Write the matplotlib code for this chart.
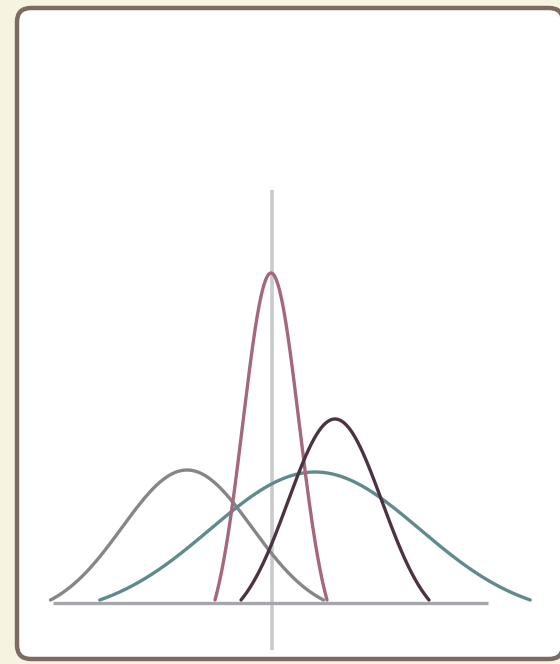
import numpy as np
import matplotlib
matplotlib.use("Agg")
import matplotlib.pyplot as plt
from matplotlib.patches import FancyBboxPatch

# ---- data: four bell curves (centre, spread, peak height) ----
names = ["gray", "teal", "pink", "purple"]
means = [-1.70, 0.86, -0.02, 1.26]
sigmas = [1.30, 2.10, 0.56, 0.94]
heights = [1.30, 1.28, 3.27, 1.81]
colors = ["#868686", "#5f8b8c", "#a5677a", "#4d3242"]
truncation = [2.1, 2.05, 2.0, 2.0]  # drawn to +/- k sigma, dropped to baseline

W, H = 560, 664
fig = plt.figure(figsize=(W / 100, H / 100), dpi=100)
fig.patch.set_facecolor("#f7f3e1")

# background / frame axes in pixel units
bg = fig.add_axes([0, 0, 1, 1])
bg.set_xlim(0, W)
bg.set_ylim(H, 0)
bg.axis("off")
frame = FancyBboxPatch((17, 8), 546, 651,
                       boxstyle="round,pad=0,rounding_size=14",
                       facecolor="white", edgecolor="#7d6a60",
                       linewidth=3.2, zorder=1)
bg.add_patch(frame)

# chart axes
ax = fig.add_axes([0, 0, 1, 1])
ax.patch.set_alpha(0)
ax.set_xlim(-5.44, 5.76)
ax.set_ylim(-0.64, 6.00)
ax.axis("off")

# vertical reference line
ax.plot([0, 0], [-0.50, 4.10], color="#c9cbcb", lw=2.6,
        solid_capstyle="butt", zorder=2)
# baseline
ax.plot([-4.38, 4.32], [-0.03, -0.03], color="#a6a6ad", lw=2.4,
        solid_capstyle="butt", zorder=3)

for m, s, h, c, k in zip(means, sigmas, heights, colors, truncation):
    x = np.linspace(m - k * s, m + k * s, 400)
    g = np.exp(-0.5 * ((x - m) / s) ** 2)
    g0 = np.exp(-0.5 * k ** 2)
    y = h * (g - g0) / (1 - g0)
    ax.plot(x, y, color=c, lw=2.4, solid_capstyle="round", zorder=4)

fig.savefig("out.png", dpi=100)
